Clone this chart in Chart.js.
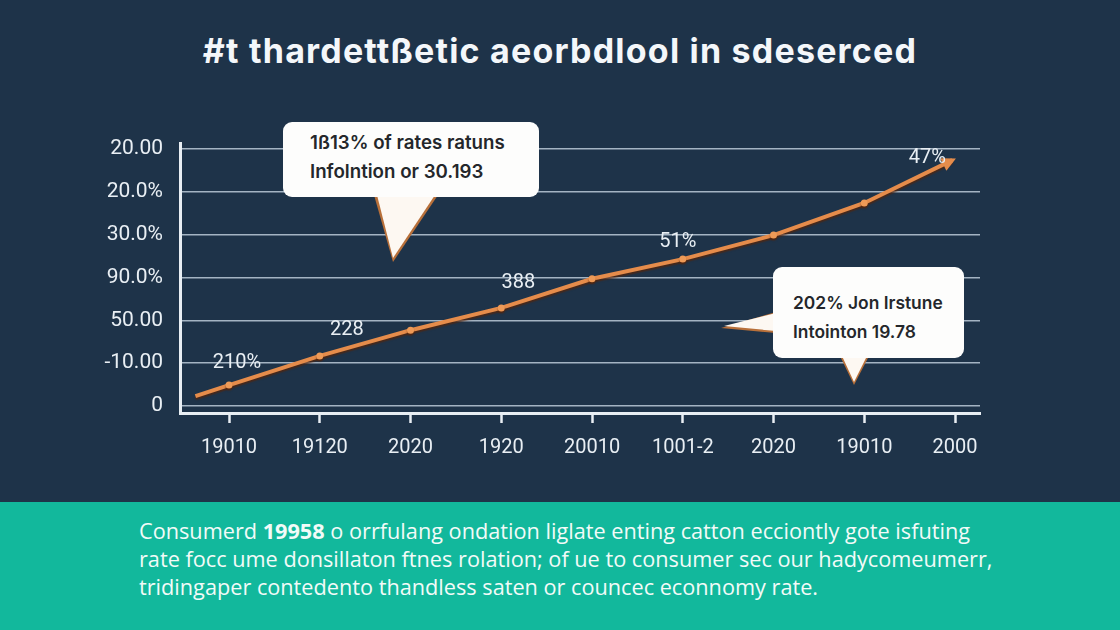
<!DOCTYPE html>
<html>
<head>
<meta charset="utf-8">
<script src="https://cdn.jsdelivr.net/npm/chart.js@4.4.1/dist/chart.umd.min.js"></script>
<style>
  html,body{margin:0;padding:0;}
  body{width:1120px;height:630px;background:#1e3349;position:relative;overflow:hidden;font-family:Inter,Roboto,sans-serif;}
  #title{position:absolute;left:0;top:30px;width:1120px;text-align:center;color:#f4f7fa;font-family:Inter,sans-serif;font-weight:700;font-size:34px;letter-spacing:1.2px;}
  #chart{position:absolute;left:0;top:0;}
  #footer{position:absolute;left:0;top:502px;width:1120px;height:128px;background:#12b89c;}
  #footer p{position:absolute;left:139px;top:15px;margin:0;color:#f2fbf8;font-family:"Open Sans",sans-serif;font-size:21.7px;line-height:28px;letter-spacing:0;white-space:nowrap;}
  .box{position:absolute;background:#fdfdfc;border-radius:9px;color:#24272b;font-family:Inter,sans-serif;font-weight:600;line-height:29px;box-sizing:border-box;white-space:nowrap;}
  #ov{position:absolute;left:0;top:0;}
</style>
</head>
<body>
<div id="title">#t thardettßetic aeorbdlool in sdeserced</div>
<canvas id="chart" width="1120" height="500"></canvas>
<svg id="ov" width="1120" height="500">
  <polygon points="374,195 438,195 393,262" fill="#b8703a"/>
  <polygon points="377,195 435,195 393,258" fill="#fdf8f2"/>
  <polygon points="776,312 721,328 776,333" fill="#b8703a"/>
  <polygon points="776,313 724,326 776,331" fill="#fdf8f2"/>
  <polygon points="840,356 869,356 854,385" fill="#b8703a"/>
  <polygon points="842,356 867,356 854,382" fill="#fdf8f2"/>
</svg>
<div class="box" style="left:283px;top:122px;width:256px;height:75px;padding:6px 0 0 27px;font-size:18.7px;">1ß13% of rates ratuns<br>Infolntion or 30.193</div>
<div class="box" style="left:773px;top:267px;width:191px;height:91px;padding:21px 0 0 20px;font-size:17.4px;">202% Jon Irstune<br>Intointon 19.78</div>
<div id="footer"><p>Consumerd <b>19958</b> o orrfulang ondation liglate enting catton ecciontly gote isfuting<br>rate focc ume donsillaton ftnes rolation; of ue to consumer sec our hadycomeumerr,<br>tridingaper contedento thandless saten or councec econnomy rate.</p></div>
<script>
const categories = ['19010','19120','2020','1920','20010','1001-2','2020','19010','2000'];
const yTickLabels = ['0','-10.00','50.00','90.0%','30.0%','20.0%','20.00'];
const seriesX = [-0.37, 0, 1, 2, 3, 4, 5, 6, 7, 7.97];
const seriesY = [0.23, 0.49, 1.17, 1.77, 2.29, 2.97, 3.43, 3.99, 4.74, 5.74];
const pointLabels = [null, '210%', '228', null, '388', null, '51%', null, null, '47%'];
const labelOffsets = [null, [8,-22], [27,-26], null, [17,-25], null, [-5,-17], null, null, [-25,-2]];

const lineColor = '#e58c4b';
const axisColor = '#e8eef3';
const textColor = '#e9eff4';

const shadowPlugin = {
  id: 'shadow',
  beforeDatasetDraw(chart){ const c = chart.ctx; c.save(); c.shadowColor='rgba(90,35,5,0.7)'; c.shadowOffsetY=2; c.shadowBlur=1.5; },
  afterDatasetDraw(chart){ chart.ctx.restore(); }
};
const extrasPlugin = {
  id: 'extras',
  afterDatasetsDraw(chart){
    const c = chart.ctx;
    const pts = chart.getDatasetMeta(0).data;
    const a = pts[pts.length-1], b = pts[pts.length-2];
    const ang = Math.atan2(a.y-b.y, a.x-b.x);
    c.save();
    c.fillStyle = lineColor;
    c.translate(a.x, a.y); c.rotate(ang);
    c.beginPath(); c.moveTo(4,0); c.lineTo(-10,-7); c.lineTo(-10,7); c.closePath(); c.fill();
    c.restore();
    c.save();
    c.fillStyle = textColor;
    c.font = '20px Roboto';
    c.textAlign = 'center'; c.textBaseline = 'middle';
    pointLabels.forEach((t,i)=>{
      if(!t) return;
      const p = pts[i], o = labelOffsets[i];
      c.fillText(t, p.x+o[0], p.y+o[1]);
    });
    c.restore();
  }
};

new Chart(document.getElementById('chart'), {
  type: 'line',
  data: {
    datasets: [{
      data: seriesX.map((x,i)=>({x, y: seriesY[i]})),
      borderColor: lineColor,
      borderWidth: 4,
      pointRadius: ctx => (ctx.dataIndex===0 || ctx.dataIndex===seriesX.length-1) ? 0 : 3.5,
      pointBorderWidth: 0,
      pointBackgroundColor: '#ee9a57',
      tension: 0,
      clip: false
    }]
  },
  options: {
    responsive: false,
    animation: false,
    events: [],
    layout: { padding: { top: 143, right: 140, left: 0, bottom: 0 } },
    plugins: { legend: { display: false }, tooltip: { enabled: false } },
    scales: {
      x: {
        type: 'linear', min: -0.54, max: 8.275,
        afterBuildTicks: s => { s.ticks = categories.map((c,i)=>({value:i})); },
        afterFit: s => { s.height = 87; },
        grid: { drawOnChartArea: false, drawTicks: true, tickLength: 10, tickColor: axisColor, tickWidth: 2.5 },
        border: { color: axisColor, width: 3 },
        ticks: { color: textColor, font: { family: 'Roboto', size: 20 }, padding: 13, maxRotation: 0, autoSkip: false,
                 callback: v => categories[Math.round(v)] }
      },
      y: {
        min: -0.163, max: 6.14,
        afterBuildTicks: s => { s.ticks = yTickLabels.map((t,i)=>({value:i})); },
        afterFit: s => { s.width = 180; },
        grid: { color: '#a4b4c3', lineWidth: 1.5, drawTicks: false },
        border: { color: axisColor, width: 3 },
        ticks: { color: textColor, font: { family: 'Roboto', size: 21 }, padding: 17,
                 callback: v => yTickLabels[Math.round(v)] }
      }
    }
  },
  plugins: [shadowPlugin, extrasPlugin]
});
</script>
</body>
</html>
